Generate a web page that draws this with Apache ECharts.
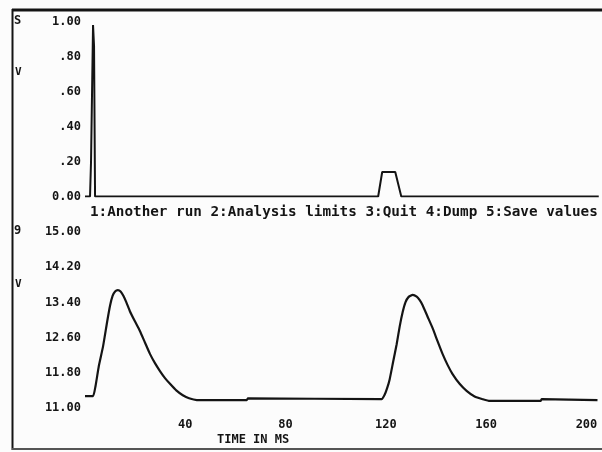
<!DOCTYPE html>
<html>
<head>
<meta charset="utf-8">
<script src="https://cdn.jsdelivr.net/npm/echarts@6/dist/echarts.min.js"></script>
<style>
html,body{margin:0;padding:0;background:#fcfcfc;}
#chart{width:602px;height:452px;}
</style>
</head>
<body>
<div id="chart"></div>
<script>
// ---- data (time in ms, volts) ----
const timeTop = [0, 2.0, 2.4, 2.9, 3.2, 3.6, 4.0, 116.7, 118.3, 123.5, 125.9, 204.5];
const voltTop = [0, 0, 0.2, 0.2, 0.98, 0.86, 0, 0, 0.14, 0.14, 0, 0];

const timeBot = [0, 3.2, 4.2, 5.5, 7.2, 8.8, 10, 11, 12, 13.1, 14.2, 15.3, 16.5, 17.9, 19.9, 21.9, 23.9, 25.9, 27.9, 29.9, 31.9, 33.9, 36.4, 39, 41.5, 44.6, 64.5, 65,
  118.3, 119.5, 120.5, 121.5, 122.9, 124.3, 125.5, 126.7, 127.8, 129, 130.7, 132.3, 133.5, 134.7, 136.6, 138.6, 140.6, 142.6, 144.6, 146.6, 149.4, 152.2, 155.4, 158.6, 161.4, 181.7, 182.1, 204.4];
const voltBot = [11.27, 11.27, 11.5, 11.95, 12.4, 12.95, 13.33, 13.55, 13.65, 13.68, 13.65, 13.55, 13.40, 13.20, 12.97, 12.75, 12.49, 12.23, 12.02, 11.84, 11.68, 11.55, 11.40, 11.29, 11.22, 11.18, 11.18, 11.22,
  11.20, 11.30, 11.45, 11.65, 12.05, 12.45, 12.85, 13.18, 13.40, 13.52, 13.57, 13.53, 13.45, 13.33, 13.08, 12.82, 12.52, 12.23, 11.98, 11.77, 11.55, 11.39, 11.26, 11.20, 11.16, 11.16, 11.20, 11.18];

const topTicks = ['0.00', '.20', '.40', '.60', '.80', '1.00'];
const botTicks = ['11.00', '11.80', '12.60', '13.40', '14.20', '15.00'];
const xTicks = [40, 80, 120, 160, 200];
const menuText = '1:Another run 2:Analysis limits 3:Quit 4:Dump 5:Save values';
const xTitle = 'TIME IN MS';

const pair = (xs, ys) => xs.map((x, i) => [x, ys[i]]);
const FONT = '"DejaVu Sans Mono", "Liberation Mono", monospace';
const INK = '#141414';

const chart = echarts.init(document.getElementById('chart'), null, {renderer: 'canvas'});

const yLabelStyle = (ticks, min, step) => ({
  fontFamily: FONT, fontWeight: 'bold', fontSize: 12, color: INK, margin: 4,
  formatter: v => ticks[Math.round((v - min) / step)] ?? ''
});

chart.setOption({
  animation: false,
  backgroundColor: '#fcfcfc',
  grid: [
    {left: 85, right: 2, top: 21.5, height: 175},
    {left: 85, right: 2, top: 232, height: 176}
  ],
  xAxis: [
    {gridIndex: 0, type: 'value', min: 0, max: 205, interval: 40,
     axisLine: {show: false}, axisTick: {show: false}, axisLabel: {show: false}, splitLine: {show: false}},
    {gridIndex: 1, type: 'value', min: 0, max: 205, interval: 40,
     axisLine: {show: false}, axisTick: {show: false}, splitLine: {show: false},
     axisLabel: {fontFamily: FONT, fontWeight: 'bold', fontSize: 12, color: INK, margin: 11,
       formatter: v => xTicks.includes(v) ? String(v) : ''}}
  ],
  yAxis: [
    {gridIndex: 0, type: 'value', min: 0, max: 1, interval: 0.2,
     axisLine: {show: false}, axisTick: {show: false}, splitLine: {show: false},
     axisLabel: yLabelStyle(topTicks, 0, 0.2)},
    {gridIndex: 1, type: 'value', min: 11, max: 15, interval: 0.8,
     axisLine: {show: false}, axisTick: {show: false}, splitLine: {show: false},
     axisLabel: yLabelStyle(botTicks, 11, 0.8)}
  ],
  series: [
    {type: 'line', xAxisIndex: 0, yAxisIndex: 0, data: pair(timeTop, voltTop),
     showSymbol: false, lineStyle: {color: INK, width: 2}},
    {type: 'line', xAxisIndex: 1, yAxisIndex: 1, data: pair(timeBot, voltBot),
     showSymbol: false, smooth: 0.15, lineStyle: {color: INK, width: 2.2}}
  ],
  graphic: [
    {type: 'line', shape: {x1: 12, y1: 10, x2: 602, y2: 10}, style: {stroke: INK, lineWidth: 3}},
    {type: 'line', shape: {x1: 12.5, y1: 9, x2: 12.5, y2: 450}, style: {stroke: INK, lineWidth: 2}},
    {type: 'line', shape: {x1: 12, y1: 449, x2: 602, y2: 449}, style: {stroke: '#555', lineWidth: 2}},
    {type: 'text', left: 14, top: 15, style: {text: 'S', font: 'bold 12px ' + FONT, fill: INK}},
    {type: 'text', left: 15, top: 67, style: {text: 'V', font: 'bold 11px ' + FONT, fill: INK}},
    {type: 'text', left: 14, top: 225, style: {text: '9', font: 'bold 12px ' + FONT, fill: INK}},
    {type: 'text', left: 15, top: 279, style: {text: 'V', font: 'bold 11px ' + FONT, fill: INK}},
    {type: 'text', left: 90, top: 205, style: {text: menuText, font: 'bold 14.3px ' + FONT, fill: INK}},
    {type: 'text', left: 217, top: 434, style: {text: xTitle, font: 'bold 12px ' + FONT, fill: INK}}
  ]
});
</script>
</body>
</html>
